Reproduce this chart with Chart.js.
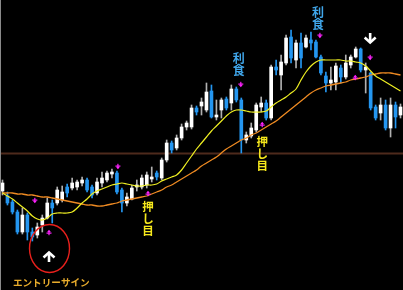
<!DOCTYPE html>
<html>
<head>
<meta charset="utf-8">
<script src="https://cdn.jsdelivr.net/npm/chart.js@4.4.0/dist/chart.umd.min.js"></script>
<style>
  html, body { margin: 0; padding: 0; background: #000; overflow: hidden; }
  canvas { display: block; }
</style>
</head>
<body>
<canvas id="chart" width="403" height="290"></canvas>
<script>
// OHLC per bar (price points)
const opens = [
  99, 94, 88, 78, 58, 75, 58, 55, 65, 72,
  87, 87, 90, 103, 102, 103, 107, 110, 103, 97,
  107, 110, 116, 117, 100, 87, 91, 103, 103, 105,
  111, 117, 112, 130, 147, 142, 152, 163, 163, 182,
  184, 180, 199, 173, 180, 191, 187, 201, 190, 150,
  154, 160, 183, 187, 172, 223, 215, 227, 253, 230,
  247, 243, 250, 248, 233, 214, 207, 208, 222, 213,
  225, 233, 241, 220, 217, 183, 177, 185, 162, 185, 175
];
const closes = [
  107, 87, 78, 58, 75, 58, 53, 63, 72, 87,
  82, 100, 98, 97, 107, 108, 110, 100, 95, 108,
  112, 117, 118, 98, 87, 93, 102, 105, 112, 115,
  113, 113, 130, 147, 140, 152, 163, 167, 182, 178,
  188, 198, 173, 175, 190, 182, 201, 190, 150, 155,
  162, 185, 187, 172, 223, 220, 228, 252, 232, 247,
  232, 252, 247, 233, 217, 207, 210, 224, 213, 227,
  233, 241, 220, 223, 182, 172, 185, 162, 185, 173, 183
];
const highs = [
  110, 98, 90, 80, 82, 77, 62, 67, 75, 92,
  90, 103, 104, 106, 112, 110, 113, 112, 105, 112,
  118, 119, 121, 119, 102, 97, 105, 110, 115, 118,
  123, 119, 132, 150, 149, 155, 166, 169, 185, 184,
  192, 207, 205, 190, 192, 193, 205, 203, 192, 158,
  167, 187, 193, 190, 225, 230, 235, 255, 260, 250,
  257, 255, 258, 250, 235, 218, 223, 227, 225, 235,
  235, 243, 242, 227, 218, 185, 192, 190, 192, 188, 186
];
const lows = [
  95, 85, 76, 56, 56, 50, 49, 52, 58, 71,
  67, 85, 88, 93, 100, 100, 104, 98, 92, 95,
  103, 108, 112, 96, 78, 84, 90, 99, 101, 102,
  108, 110, 110, 128, 137, 140, 150, 160, 161, 175,
  175, 178, 172, 170, 172, 180, 180, 188, 137, 147,
  152, 158, 178, 170, 170, 215, 200, 225, 227, 222,
  222, 242, 240, 232, 215, 198, 200, 200, 207, 211,
  222, 232, 218, 197, 180, 170, 170, 160, 153, 162, 172
];

// Moving averages (fast = yellow, slow = orange)
const maFast = [
  97, 94, 91, 87, 83, 79, 74, 71, 70, 72,
  76, 77, 77, 77, 78, 82, 87, 91, 96, 99,
  101, 103, 105, 106, 107, 106, 105, 104, 104, 105,
  105, 106, 109, 111, 113, 115, 120, 127, 134, 141,
  147, 153, 159, 164, 169, 174, 178, 180, 180, 179,
  178, 178, 178, 179, 183, 187, 190, 193, 197, 201,
  210, 218, 224, 228, 230, 230, 230, 230, 230, 229,
  229, 228, 227, 224, 219, 214, 211, 208, 205, 202, 199
];
const maSlow = [
  97, 97, 97, 96, 96, 95, 95, 94, 93, 93,
  92, 91, 90, 89, 88, 87, 86, 85, 85, 84,
  84, 85, 86, 87, 89, 90, 91, 92, 93, 94,
  96, 98, 100, 103, 105, 108, 111, 114, 117, 120,
  124, 127, 130, 133, 137, 141, 144, 147, 150, 152,
  155, 157, 160, 163, 166, 169, 173, 177, 181, 185,
  189, 193, 197, 200, 202, 204, 205, 206, 207, 208,
  210, 211, 212, 213, 215, 216, 217, 217, 217, 216, 215
];

// Horizontal reference level
const keyLevel = 136.5;

// Small signal marks: bar position, price, direction (1 = up, -1 = down)
const signalBars   = [6.5, 9.35, 23.2, 29.25, 47.9, 52.2, 63.8, 73.9, 70.9];
const signalPrices = [90, 57, 124, 96, 206, 165, 255, 233, 212];
const signalDirs   = [-1, 1, -1, 1, -1, 1, -1, -1, 1];

const labels = closes.map((_, i) => String(i + 1));
const isBull = closes.map((c, i) => c >= opens[i]);

const BULL_BODY = '#ffffff';
const BULL_WICK = '#b0b0b0';
const BEAR = '#2496f0';

// tiny "+" with an arrow tip; dir 1 points up, -1 points down
function signalMark(ctx, x, y, dir, color) {
  const s = -dir; // screen direction of the tip
  ctx.save();
  ctx.fillStyle = color;
  ctx.fillRect(x - 2.5, y - 0.5, 5, 1.2);
  ctx.fillRect(x - 0.6, y - 2.2, 1.2, 4.4);
  ctx.beginPath();
  ctx.moveTo(x - 1.8, y + s * 1);
  ctx.lineTo(x + 1.8, y + s * 1);
  ctx.lineTo(x, y + s * 3.2);
  ctx.closePath();
  ctx.fill();
  ctx.restore();
}

// white thick arrow; y = tip, dir 1 points up, -1 points down
function bigArrow(ctx, x, y, dir) {
  const s = dir; // stem grows away from the tip
  ctx.save();
  ctx.strokeStyle = '#ffffff';
  ctx.lineWidth = 2.6;
  ctx.lineCap = 'butt';
  ctx.lineJoin = 'miter';
  ctx.beginPath();
  ctx.moveTo(x - 5.5, y + s * 5.5);
  ctx.lineTo(x, y + s * 0.5);
  ctx.lineTo(x + 5.5, y + s * 5.5);
  ctx.stroke();
  ctx.beginPath();
  ctx.moveTo(x, y + s * 1);
  ctx.lineTo(x, y + s * 10);
  ctx.stroke();
  ctx.restore();
}

function verticalText(ctx, text, x, yTop, step, font, color) {
  ctx.save();
  ctx.font = font;
  ctx.fillStyle = color;
  ctx.textAlign = 'center';
  ctx.textBaseline = 'top';
  [...text].forEach((ch, i) => ctx.fillText(ch, x, yTop + i * step));
  ctx.restore();
}

const overlay = {
  id: 'overlay',
  beforeDraw(chart) {
    const ctx = chart.ctx;
    ctx.save();
    ctx.fillStyle = '#000000';
    ctx.fillRect(0, 0, chart.width, chart.height);
    ctx.restore();
  },
  beforeDatasetsDraw(chart) {
    const ctx = chart.ctx;
    const y = chart.scales.y.getPixelForValue(keyLevel);
    ctx.save();
    ctx.strokeStyle = '#4e2a1c';
    ctx.lineWidth = 2;
    ctx.beginPath();
    ctx.moveTo(0, y);
    ctx.lineTo(chart.width, y);
    ctx.stroke();
    ctx.restore();
  },
  afterDatasetsDraw(chart) {
    const ctx = chart.ctx;
    const xs = chart.scales.x, ys = chart.scales.y;
    const px = v => xs.getPixelForValue(v);
    const py = v => ys.getPixelForValue(v);

    signalBars.forEach((b, i) => {
      signalMark(ctx, px(b), py(signalPrices[i]), signalDirs[i], '#ff22ff');
    });

    // entry / exit arrows
    bigArrow(ctx, px(9.35), py(38), 1);
    bigArrow(ctx, px(73.9), py(247), -1);

    // ring around the entry arrow
    ctx.save();
    ctx.strokeStyle = '#e8201c';
    ctx.lineWidth = 1.4;
    ctx.beginPath();
    ctx.ellipse(px(9.45), py(41.5), 20, 24, 0, 0, Math.PI * 2);
    ctx.stroke();
    ctx.restore();

    const jp = '"Noto Sans CJK JP", "Noto Sans CJK SC", sans-serif';
    ctx.save();
    ctx.font = 'bold 9.6px ' + jp;
    ctx.fillStyle = '#e8ac2c';
    ctx.textAlign = 'left';
    ctx.textBaseline = 'middle';
    ctx.fillText('エントリーサイン', px(2.1), py(8));
    ctx.restore();

    verticalText(ctx, '押し目', px(29.25), py(89), 11.7, 'bold 11.5px ' + jp, '#f6e81c');
    verticalText(ctx, '押し目', px(52.2), py(154), 11.7, 'bold 11.5px ' + jp, '#f6e81c');
    verticalText(ctx, '利食', px(47.5), py(238), 12, 'bold 12px ' + jp, '#40a6ea');
    verticalText(ctx, '利食', px(63.4), py(284), 12, 'bold 12px ' + jp, '#40a6ea');

    // left frame edge
    ctx.save();
    ctx.strokeStyle = '#8a8a8a';
    ctx.lineWidth = 1;
    ctx.beginPath();
    ctx.moveTo(0.5, 0);
    ctx.lineTo(0.5, chart.height);
    ctx.stroke();
    ctx.restore();
  }
};

new Chart(document.getElementById('chart'), {
  type: 'bar',
  data: {
    labels,
    datasets: [
      {
        type: 'line', data: maFast, borderColor: '#eeee22', borderWidth: 1.2,
        pointRadius: 0, tension: 0.35, order: 0
      },
      {
        type: 'line', data: maSlow, borderColor: '#ee8a22', borderWidth: 1.3,
        pointRadius: 0, tension: 0.35, order: 0
      },
      {
        type: 'bar', data: lows.map((l, i) => [l, highs[i]]),
        backgroundColor: isBull.map(b => b ? BULL_WICK : BEAR),
        barThickness: 1, grouped: false, order: 2, borderWidth: 0
      },
      {
        type: 'bar', data: opens.map((o, i) => [Math.min(o, closes[i]), Math.max(o, closes[i])]),
        backgroundColor: isBull.map(b => b ? BULL_BODY : BEAR),
        barThickness: 3, grouped: false, order: 1, borderWidth: 0
      }
    ]
  },
  options: {
    responsive: false,
    animation: false,
    devicePixelRatio: 1,
    layout: { padding: 0 },
    plugins: { legend: { display: false }, tooltip: { enabled: false } },
    scales: {
      x: { display: false, offset: true },
      y: { display: false, min: 0, max: 290 }
    }
  },
  plugins: [overlay]
});
</script>
</body>
</html>
